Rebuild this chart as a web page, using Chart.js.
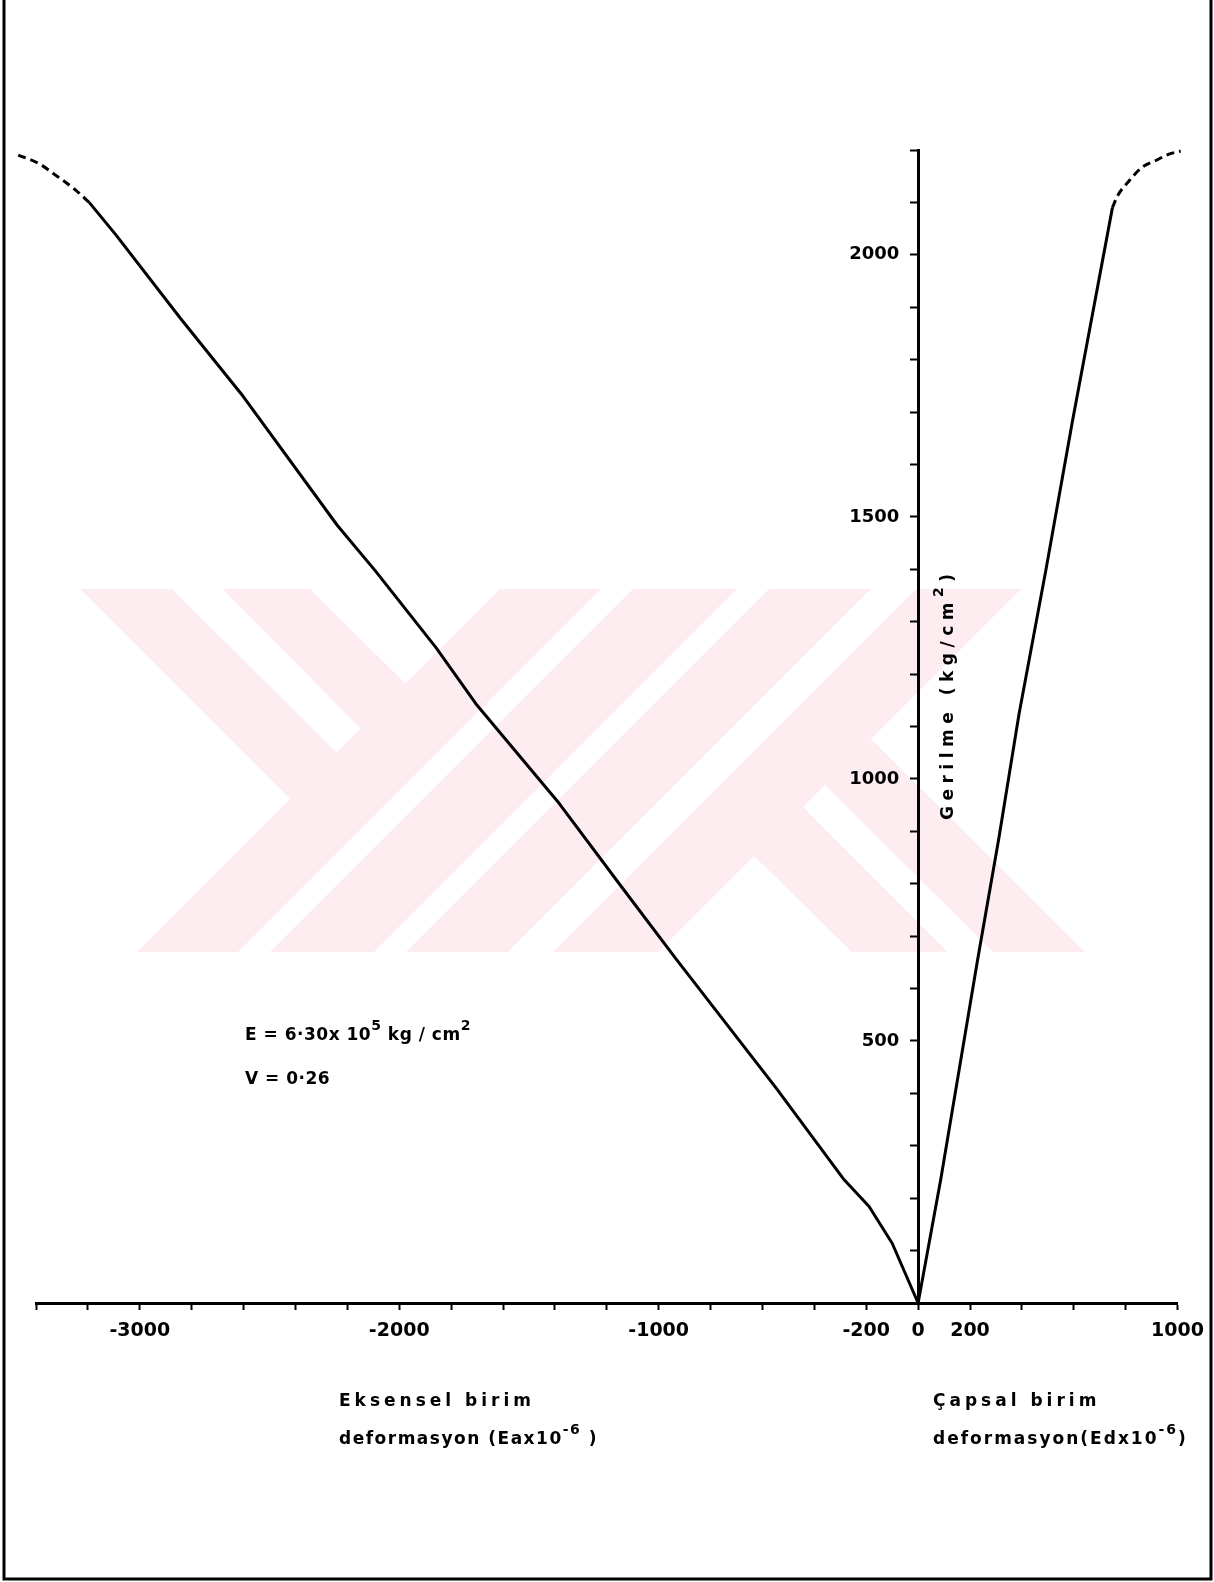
<!DOCTYPE html>
<html>
<head>
<meta charset="utf-8">
<title>Gerilme - deformasyon</title>
<script src="https://cdn.jsdelivr.net/npm/chart.js@4.4.0/dist/chart.umd.min.js"></script>
<style>
  html, body { margin: 0; padding: 0; background: #fff; }
  canvas { display: block; }
</style>
</head>
<body>
<canvas id="chart" width="1214" height="1582"></canvas>
<script>
// eksensel (axial) birim deformasyon, x10^-6 -- solid part
const axialStrain = [0, -100, -189, -285, -547, -934, -1152, -1383, -1704, -1859, -2092, -2239, -2608, -2842, -3092, -3195];
const axialStress = [0, 114, 184, 235, 410, 657, 800, 953, 1143, 1251, 1397, 1484, 1734, 1878, 2038, 2100];
// dashed (extrapolated) end of the axial curve
const axialDashStrain = [-3195, -3246, -3330, -3385, -3477];
const axialDashStress = [2100, 2123, 2154, 2173, 2192];

// capsal (lateral) birim deformasyon, x10^-6
const lateralStrain = [0, 87, 229, 312, 389, 492, 595, 749];
const lateralStress = [0, 235, 654, 889, 1124, 1397, 1683, 2090];
const lateralDashStrain = [749, 768, 813, 863, 916, 967, 1012];
const lateralDashStress = [2090, 2112, 2141, 2167, 2180, 2192, 2198];

// which ticks carry a label
const xTickLabels = [-3000, -2000, -1000, -200, 0, 200, 1000];
const yTickLabels = [500, 1000, 1500, 2000];

const FONT = '"DejaVu Sans", sans-serif';

function toPoints(xs, ys) {
  return xs.map((x, i) => ({ x: x, y: ys[i] }));
}

// text with superscripts, drawn left to right
function richText(ctx, x, y, parts, size, spacing) {
  let cx = x;
  parts.forEach(p => {
    const s = p.sup ? Math.round(size * 0.8) : size;
    ctx.font = 'bold ' + s + 'px ' + FONT;
    ctx.letterSpacing = spacing + 'px';
    ctx.fillText(p.t, cx, p.sup ? y - size * 0.6 : y);
    cx += ctx.measureText(p.t).width;
  });
  ctx.letterSpacing = '0px';
}

// background, YOK watermark, frame and free text
const pagePlugin = {
  id: 'page',
  beforeDraw(chart) {
    const ctx = chart.ctx;
    ctx.save();
    ctx.fillStyle = '#ffffff';
    ctx.fillRect(0, 0, chart.width, chart.height);
    ctx.beginPath();
    ctx.rect(0, 589, chart.width, 952 - 589);
    ctx.clip();
    ctx.fillStyle = '#fdedf1';
    const shapes = [
      [[80, 589], [172, 589], [337, 753], [291, 800]],
      [[223, 589], [310, 589], [406, 684], [361, 729]],
      [[500, 589], [601, 589], [238, 952], [137, 952]],
      [[633, 589], [737, 589], [374, 952], [270, 952]],
      [[769, 589], [871, 589], [508, 952], [406, 952]],
      [[916, 589], [1021, 589], [658, 952], [553, 952]],
      [[754, 856], [803, 807], [948, 952], [852, 952]],
      [[825, 785], [871, 739], [1085, 952], [993, 952]]
    ];
    shapes.forEach(s => {
      ctx.beginPath();
      s.forEach((p, i) => i ? ctx.lineTo(p[0], p[1]) : ctx.moveTo(p[0], p[1]));
      ctx.closePath();
      ctx.fill();
    });
    ctx.restore();
  },
  afterDraw(chart) {
    const ctx = chart.ctx;
    ctx.save();
    ctx.fillStyle = '#000';
    ctx.textBaseline = 'alphabetic';
    ctx.textAlign = 'left';

    richText(ctx, 245, 1040, [{ t: 'E = 6·30x 10' }, { t: '5', sup: true }, { t: ' kg / cm' }, { t: '2', sup: true }], 17, 0.5);
    richText(ctx, 245, 1084, [{ t: 'V = 0·26' }], 17, 0.5);

    richText(ctx, 339, 1406, [{ t: 'Eksensel birim' }], 17, 4);
    richText(ctx, 339, 1444, [{ t: 'deformasyon (Eax10' }, { t: '-6', sup: true }, { t: ' )' }], 17, 1.5);
    richText(ctx, 933, 1406, [{ t: 'Çapsal birim' }], 17, 4);
    richText(ctx, 933, 1444, [{ t: 'deformasyon(Edx10' }, { t: '-6', sup: true }, { t: ')' }], 17, 2);

    // y title, rotated
    ctx.translate(953, 820);
    ctx.rotate(-Math.PI / 2);
    richText(ctx, 0, 0, [{ t: 'Gerilme (kg/cm' }, { t: '2', sup: true }, { t: ')' }], 17, 5.5);
    ctx.restore();

    // frame of the scanned page
    ctx.save();
    ctx.strokeStyle = '#000';
    ctx.lineWidth = 3;
    ctx.beginPath();
    ctx.moveTo(4, -5);
    ctx.lineTo(4, 1579);
    ctx.lineTo(1211, 1579);
    ctx.lineTo(1211, -5);
    ctx.stroke();
    ctx.restore();
  }
};

const solid = {
  showLine: true,
  pointRadius: 0,
  borderColor: '#000',
  borderWidth: 3,
  borderJoinStyle: 'round',
  clip: false
};
const dashed = Object.assign({}, solid, { borderDash: [8, 5], cubicInterpolationMode: 'monotone' });

new Chart(document.getElementById('chart'), {
  type: 'scatter',
  data: {
    datasets: [
      Object.assign({ label: 'Eksensel', data: toPoints(axialStrain, axialStress) }, solid),
      Object.assign({ label: 'Eksensel (uzatma)', data: toPoints(axialDashStrain, axialDashStress) }, dashed),
      Object.assign({ label: 'Çapsal', data: toPoints(lateralStrain, lateralStress) }, solid),
      Object.assign({ label: 'Çapsal (uzatma)', data: toPoints(lateralDashStrain, lateralDashStress) }, dashed)
    ]
  },
  options: {
    responsive: false,
    animation: false,
    devicePixelRatio: 1,
    layout: { padding: { left: 36, right: 36, top: 150, bottom: 239 } },
    plugins: {
      legend: { display: false },
      tooltip: { enabled: false }
    },
    scales: {
      x: {
        type: 'linear',
        position: 'bottom',
        min: -3400,
        max: 1000,
        afterFit(scale) { scale.height = 40; },
        border: { display: true, color: '#000', width: 3 },
        grid: { drawOnChartArea: false, drawTicks: true, tickLength: 7, tickColor: '#000', tickWidth: 2 },
        ticks: {
          stepSize: 200,
          autoSkip: false,
          maxRotation: 0,
          padding: 10,
          color: '#000',
          font: { family: FONT, size: 19, weight: 'bold' },
          callback: v => xTickLabels.includes(v) ? String(v) : ''
        }
      },
      y: {
        type: 'linear',
        position: { x: 0 },
        min: 0,
        max: 2200,
        border: { display: true, color: '#000', width: 3 },
        grid: { drawOnChartArea: false, drawTicks: true, tickLength: 7, tickColor: '#000', tickWidth: 2 },
        ticks: {
          stepSize: 100,
          autoSkip: false,
          color: '#000',
          font: { family: FONT, size: 18, weight: 'bold' },
          // labels of an axis placed at x = 0 sit flush on the line; trailing spaces keep them clear of the ticks
          callback: v => yTickLabels.includes(v) ? String(v) + '   ' : ''
        }
      }
    }
  },
  plugins: [pagePlugin]
});
</script>
</body>
</html>
